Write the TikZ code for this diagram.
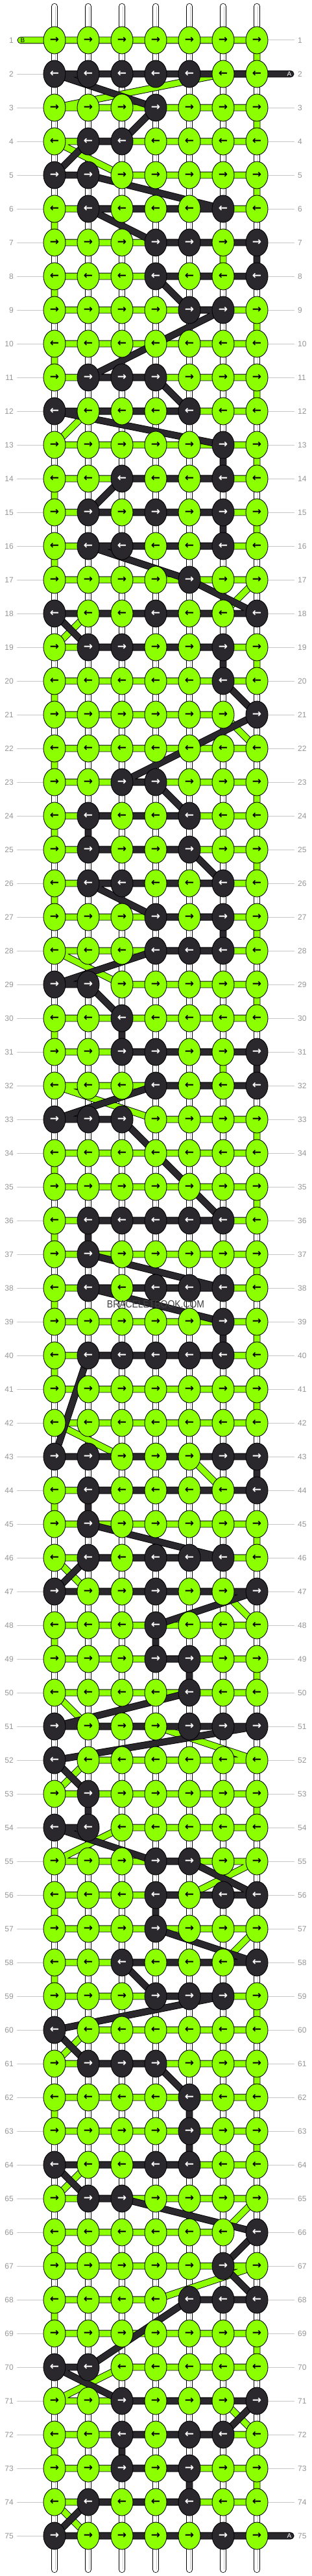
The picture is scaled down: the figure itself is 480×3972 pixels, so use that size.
\documentclass[tikz,border=0pt]{standalone}
\usepackage{fontspec}
\setmainfont{Liberation Sans}
\newfontfamily\arrowfont{DejaVu Sans}
\usetikzlibrary{shapes.geometric}

\definecolor{threadgreen}{RGB}{140,255,0}
\definecolor{threaddark}{RGB}{42,40,45}
\definecolor{numgray}{RGB}{150,150,150}

\pgfdeclarelayer{strings}
\pgfdeclarelayer{greenlayer}
\pgfdeclarelayer{darklayer}
\pgfsetlayers{strings,greenlayer,darklayer,main}

\tikzset{
  knot/.style={ellipse, draw=black, line width=0.9pt, minimum width=34pt, minimum height=42pt,
    inner sep=0pt, font=\arrowfont\bfseries\fontsize{17}{17}\selectfont},
  gthread/.style={draw=black, line width=0.9pt, double=threadgreen, double distance=9pt,
    line cap=round, line join=round},
  dthread/.style={draw=black, line width=0.9pt, double=threaddark, double distance=9pt,
    line cap=round, line join=round},
  basestring/.style={draw=black, line width=0.8pt, double=white, double distance=8.5pt, line cap=round},
  rowline/.style={draw=black!22, line width=1pt},
  rownum/.style={text=numgray, font=\fontsize{12}{12}\selectfont, inner xsep=5pt, inner ysep=0pt},
  endtag/.style={font=\fontsize{10}{10}\selectfont, inner sep=0pt},
}

% one string per row, knots left to right: g = green, d = dark
\def\patternrows{ggggggg,dddddgg,gggdggg,gddgggg,ddggggg,gdgggdg,gggddgd,gggdggd,ggggddg,ggggggg,
gdddggg,dgggdgg,gggggdg,ggdggdg,gdgdgdg,gddggdg,ggggdgg,dggdggd,gddggdg,gggggdg,
ggggggd,ggggggg,ggddggg,gdggdgg,gdggdgg,gddggdg,gggdgdg,gggdddg,ddggggg,ggdgggg,
ggddggd,gggdggd,dddgggg,ggggggg,ggggggg,gdddddg,gdggggg,gdgdddg,gggggdg,gdddddg,
ggggggg,ggggggg,ddgggdd,gdggggd,gdggggg,gdgdddg,dggdggd,gggdggg,gggddgg,ggggdgg,
dgggddd,dgggggg,gdggggg,ddggggg,gggddgg,gggdgdd,gggdggg,ggdgggd,gggdddg,dgggggg,
gdddggg,ggggdgg,ggggdgg,dggddgg,gddgggg,ggggggd,gggggdg,ggggddd,ggggggg,ddggggg,
ggdgggd,ggdgddg,ggdgdgg,gdggdgg,dggggdg}

\def\splitrow#1{\expandafter\splitrowaux#1\relax}
\def\splitrowaux#1#2#3#4#5#6#7\relax{\xdef\rowchars{#1,#2,#3,#4,#5,#6,#7}}

\begin{document}
\begin{tikzpicture}[x=1pt,y=-1pt]
\useasboundingbox (0,0) rectangle (480,3972);

% knots
\foreach \rowdata [count=\row] in \patternrows {
  \splitrow{\rowdata}
  \foreach \ch [count=\pos] in \rowchars {
    \expandafter\xdef\csname kc-\row-\pos\endcsname{\ch}
    \if\ch g\def\kfill{threadgreen}\def\ktext{black}\else\def\kfill{threaddark}\def\ktext{white}\fi
    \node[knot, fill=\kfill, text=\ktext] (k-\row-\pos) at ({84+(\pos-1)*52},{62+(\row-1)*52})
      {\ifodd\row →\else ←\fi};
  }
}

% row numbers
\foreach \row in {1,...,75} {
  \node[rownum, anchor=east] (ln-\row) at (26,{62+(\row-1)*52}) {\row};
  \node[rownum, anchor=west] (rn-\row) at (454,{62+(\row-1)*52}) {\row};
}

% base strings and row lines
\begin{pgfonlayer}{strings}
  \fill[white] (0,0) rectangle (480,3972);
  \foreach \pos in {1,...,7} {
    \coordinate (top-\pos) at ({84+(\pos-1)*52},10);
    \coordinate (bot-\pos) at ({84+(\pos-1)*52},3962);
    \draw[basestring] (top-\pos) -- (bot-\pos);
    \draw[black!22, line width=1.2pt] ([xshift=1.5pt]top-\pos) -- ([xshift=1.5pt]bot-\pos);
  }
  \foreach \row in {1,...,75} {
    \draw[rowline] (ln-\row.east) -- (k-\row-1.center);
    \draw[rowline] (k-\row-7.center) -- (rn-\row.west);
  }
\end{pgfonlayer}

% threads: follow the knots row by row, one path per thread
\coordinate (B-in) at (32,62);
\coordinate (A-in) at (448,114);
\coordinate (A-out) at (448,3910);
\coordinate (B-out) at (448,3910);
\gdef\gpath{}
\gdef\dpath{}
\foreach \row in {1,...,75} {
  \foreach \n in {1,...,7} {
    \pgfmathtruncatemacro\pos{isodd(\row) ? \n : 8-\n}
    \if\csname kc-\row-\pos\endcsname g
      \xdef\gpath{\gpath -- (k-\row-\pos.center)}
    \else
      \xdef\dpath{\dpath -- (k-\row-\pos.center)}
    \fi
  }
}
\begin{pgfonlayer}{greenlayer}
  \edef\threadcmd{\noexpand\draw[gthread] (B-in) \gpath\space -- (B-out);}
  \threadcmd
\end{pgfonlayer}
\begin{pgfonlayer}{darklayer}
  \edef\threadcmd{\noexpand\draw[dthread] (A-in) \dpath\space -- (A-out);}
  \threadcmd
\end{pgfonlayer}

\node[endtag, text=black] (B-tag) at (35,62) {B};
\node[endtag, text=white] (A-tag) at (446,114) {A};
\node[endtag, text=white] (A-tag-end) at (446,3910) {A};

\node[text=black!75, font=\fontsize{16}{16}\selectfont, xscale=0.87] (brand) at (240,2011) {BRACELETBOOK.COM};
\end{tikzpicture}
\end{document}
